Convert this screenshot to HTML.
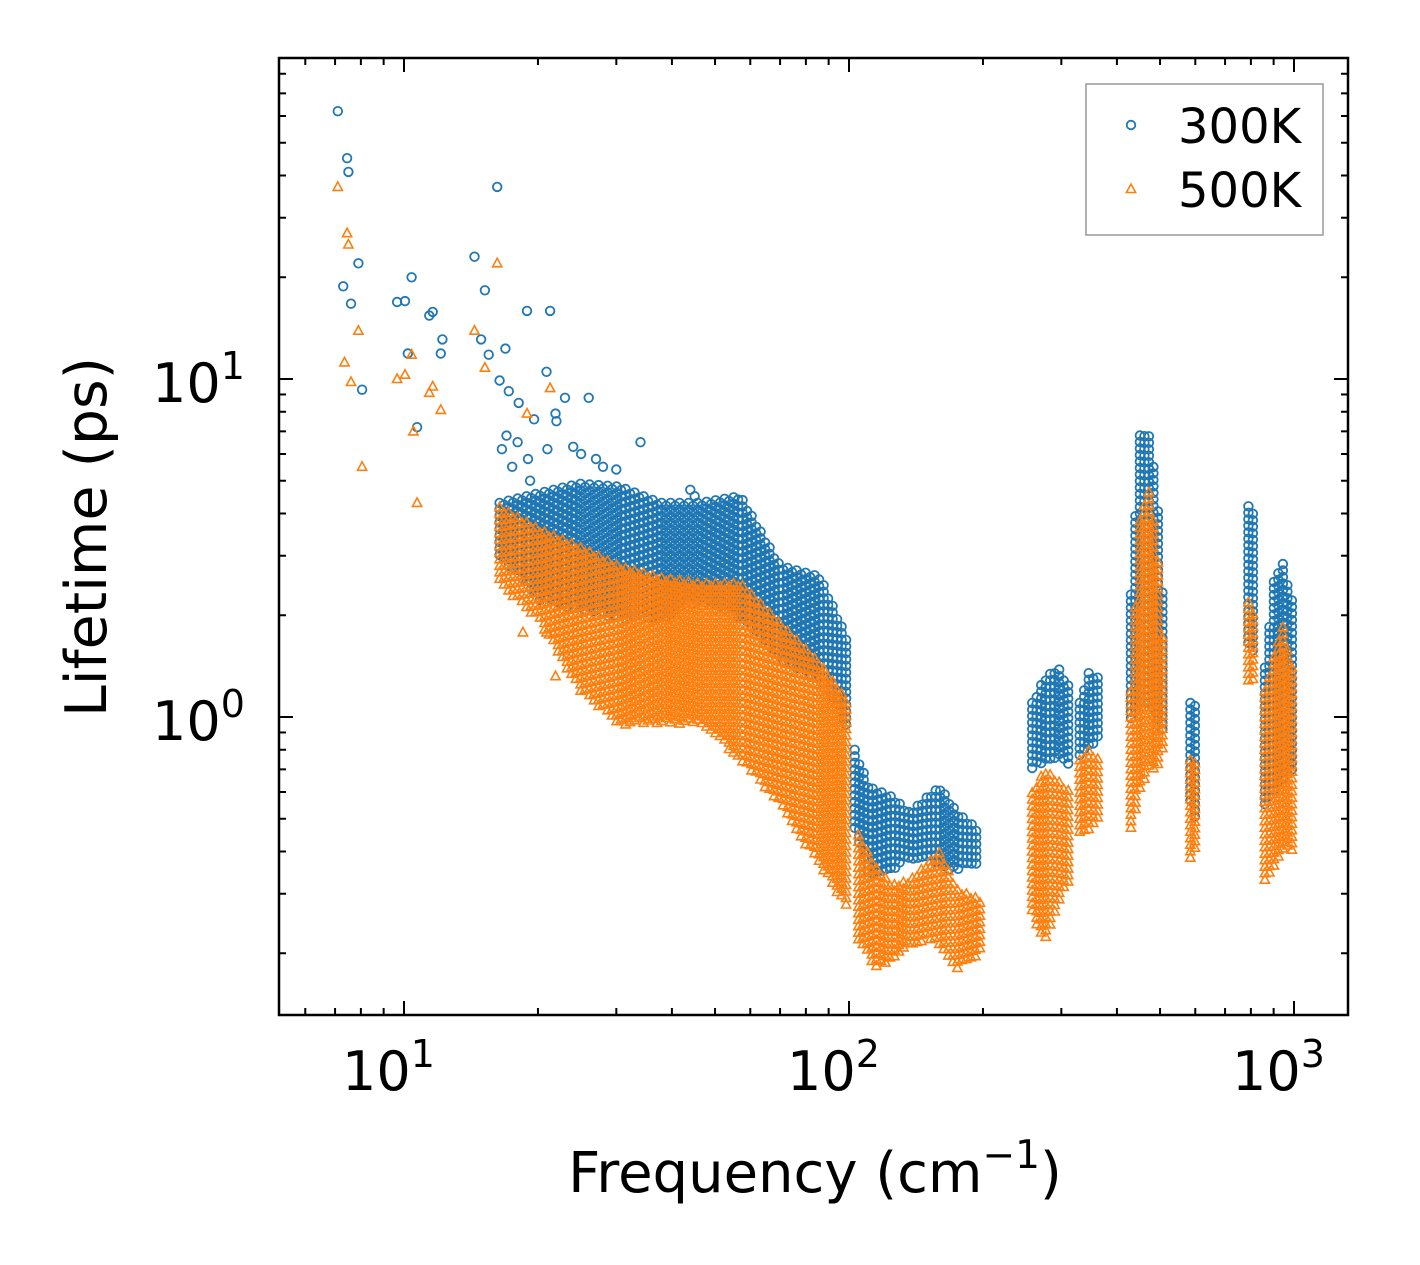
<!DOCTYPE html>
<html><head><meta charset="utf-8">
<style>
html,body{margin:0;padding:0;background:#fff;}
svg{display:block;font-family:"DejaVu Sans","Liberation Sans",sans-serif;}
</style></head>
<body>
<svg id="chart" width="1420" height="1265" viewBox="0 0 1420 1265" xmlns="http://www.w3.org/2000/svg">
<g id="marks"></g>
<g id="axes"></g>
</svg>
<script>
// ---- data (frequency cm^-1, lifetime ps) ----
const blueOutF = [7.1,7.45,7.5,7.3,7.6,7.9,8.05,9.65,10.05,10.4,10.2,10.7,11.4,11.6,12.2,12.1,14.4,15.2,16.2,14.9,15.5,16.9,18.9,21.3,20.9,23.0,26,34,44,45,16.4,17.2,18.1,19.6,21.9,17,18,19,21,22,24,25,27,28,30,16.6,17.5,19.2];
const blueOutL = [62,45,41,18.8,16.7,22,9.3,16.9,17,20,11.9,7.2,15.4,15.8,13.1,11.9,23,18.3,37,13.1,11.8,12.3,15.9,15.9,10.5,8.8,8.8,6.5,4.7,4.5,9.9,9.2,8.5,7.6,7.9,6.8,6.5,5.8,6.2,7.5,6.3,6.0,5.8,5.5,5.4,6.2,5.5,5.0];
const orangeOutF = [7.1,7.45,7.5,7.35,7.6,7.9,8.05,9.65,10.05,10.4,10.5,10.7,11.4,11.6,12.1,14.4,15.2,16.2,18.9,21.3,18.5,20.9,21.9];
const orangeOutL = [37,27,25,11.2,9.8,13.9,5.5,10,10.3,11.8,7,4.3,9.1,9.5,8.1,13.9,10.8,22,7.9,9.4,1.78,1.78,1.32];

const blueSegF  = [[16.4,20.2,24.8,30.6,37.6,46.3,57,70,86,100],[103,111,125,137,150,160,175,197],[258,275,295,315],[330,345,365],[430,450,470,490,510],[585,600],[790,820],[860,900,940,990]];
const blueSegHi = [[4.3,4.6,4.9,4.8,4.3,4.3,4.5,2.8,2.6,1.65],[0.8,0.62,0.58,0.52,0.58,0.62,0.52,0.46],[1.1,1.3,1.4,1.2],[1.1,1.35,1.3],[2.3,6.8,7,5,2],[1.1,1.1],[4.2,4.0],[1.4,2.5,2.9,2.2]];
const blueSegLo = [[3.0,2.2,2.07,1.94,1.94,2.2,1.94,1.47,1.29,0.91],[0.45,0.33,0.35,0.38,0.38,0.36,0.35,0.37],[0.7,0.72,0.75,0.7],[0.75,0.8,0.85],[0.95,1.1,1.1,1.0,0.9],[0.55,0.5],[1.6,1.5],[0.55,0.6,0.65,0.7]];

const orangeSegF  = [[16.4,20.2,24.8,30.6,37.6,46.3,57,70,86,100],[105,115,125,137,150,160,175,197],[258,275,295,315],[330,345,365],[430,450,470,490,510],[585,600],[790,820],[860,900,940,990]];
const orangeSegHi = [[4.2,3.6,3.2,2.8,2.6,2.5,2.5,1.9,1.45,1.1],[0.45,0.36,0.32,0.33,0.37,0.4,0.31,0.29],[0.6,0.7,0.65,0.6],[0.75,0.8,0.75],[1.2,3.8,4.8,3.5,1.5],[0.75,0.75],[2.2,2.0],[1.2,1.5,1.9,1.4]];
const orangeSegLo = [[2.5,1.9,1.2,0.95,0.95,0.95,0.75,0.55,0.36,0.27],[0.22,0.18,0.19,0.21,0.22,0.21,0.18,0.2],[0.26,0.21,0.28,0.33],[0.45,0.45,0.5],[0.45,0.6,0.7,0.7,0.8],[0.38,0.4],[1.25,1.3],[0.33,0.35,0.4,0.4]];

const xTickVals = [10,100,1000];
const xTickExp = ["1","2","3"];
const yTickVals = [1,10];
const yTickExp = ["0","1"];
const legendLabels = ["300K","500K"];

// ---- axes ----
const L=279,R=1348,T=58,B=1015;
const xPerDec=445, yPerDec=338;
function X(f){return 404+(Math.log10(f)-1)*xPerDec;}
function Y(l){return 717-Math.log10(l)*yPerDec;}
const NS="http://www.w3.org/2000/svg";
function mk(tag,attrs,parent){const e=document.createElementNS(NS,tag);for(const k in attrs)e.setAttribute(k,attrs[k]);parent.appendChild(e);return e;}
const marks=document.getElementById('marks'), axes=document.getElementById('axes');
const BLUE="#1f77b4", ORANGE="#ff7f0e";

function circle(x,y,g){
  const c=mk('circle',{cx:x.toFixed(1),cy:y.toFixed(1),r:4.3,fill:'none',stroke:BLUE,'stroke-width':1.8},g);
  
  
}
function tri(x,y,g){
  const p=mk('polygon',{points:`${x.toFixed(1)},${(y-5).toFixed(1)} ${(x-4.6).toFixed(1)},${(y+3.5).toFixed(1)} ${(x+4.6).toFixed(1)},${(y+3.5).toFixed(1)}`,fill:'none',stroke:ORANGE,'stroke-width':1.6},g);
  
  
}
function band(segF,segHi,segLo,draw,g,off){
  for(let s=0;s<segF.length;s++){
    const F=segF[s],H=segHi[s],Lo=segLo[s];
    const x0=X(F[0]),x1=X(F[F.length-1]);
    let row=0;
    for(let x=x0;x<=x1+0.01;x+=4.5){
      let k=0; while(k<F.length-2 && X(F[k+1])<x) k++;
      const xa=X(F[k]), xb=X(F[Math.min(k+1,F.length-1)]);
      const t = xb>xa ? Math.min(1,Math.max(0,(x-xa)/(xb-xa))) : 0;
      const yh=Y(H[k])+(Y(H[Math.min(k+1,F.length-1)])-Y(H[k]))*t;
      const yl=Y(Lo[k])+(Y(Lo[Math.min(k+1,F.length-1)])-Y(Lo[k]))*t;
      const st=((row%2)?3:0)+off;
      for(let y=yh+st;y<=yl;y+=6.5) draw(x,y,g);
      row++;
    }
  }
}
const gB=mk('g',{},marks);  
const gO=mk('g',{},marks);  
band(blueSegF,blueSegHi,blueSegLo,circle,gB,0);
blueOutF.forEach((f,i)=>circle(X(f),Y(blueOutL[i]),gB));
band(orangeSegF,orangeSegHi,orangeSegLo,tri,gO,1);
orangeOutF.forEach((f,i)=>tri(X(f),Y(orangeOutL[i]),gO));

// frame
const fr=mk('rect',{x:L,y:T,width:R-L,height:B-T,fill:'none',stroke:'#000','stroke-width':2.5},axes);
 
// x ticks
for(let d=0;d<=3;d++){
  for(let m=1;m<=9;m++){
    const f=m*Math.pow(10,d); const x=X(f);
    if(x<L+1||x>R-1) continue;
    const len=m===1?14:7;
    mk('line',{x1:x,y1:B,x2:x,y2:B-len,stroke:'#000','stroke-width':2},axes);
    mk('line',{x1:x,y1:T,x2:x,y2:T+len,stroke:'#000','stroke-width':2},axes);
  }
}
xTickVals.forEach((v,i)=>{
  const t=mk('text',{x:X(v)-62,y:1090,'font-size':54,fill:'#000'},axes);
  t.textContent='10';
  const s=mk('tspan',{dy:-23,'font-size':38},t); s.textContent=xTickExp[i];
   
});
// y ticks
for(let d=-1;d<=1;d++){
  for(let m=1;m<=9;m++){
    const l=m*Math.pow(10,d); const y=Y(l);
    if(y<T+1||y>B-1) continue;
    const len=m===1?14:7;
    mk('line',{x1:L,y1:y,x2:L+len,y2:y,stroke:'#000','stroke-width':2},axes);
    mk('line',{x1:R,y1:y,x2:R-len,y2:y,stroke:'#000','stroke-width':2},axes);
  }
}
yTickVals.forEach((v,i)=>{
  const t=mk('text',{x:152,y:Y(v)+23,'font-size':54,fill:'#000'},axes);
  t.textContent='10';
  const s=mk('tspan',{dy:-23,'font-size':38},t); s.textContent=yTickExp[i];
   
});
// titles
const xt=mk('text',{x:815,y:1192,'font-size':56,'text-anchor':'middle',fill:'#000'},axes);
xt.textContent='Frequency (cm';
const sup=mk('tspan',{dy:-24,'font-size':39},xt); sup.textContent='\u22121';
const cl=mk('tspan',{dy:24},xt); cl.textContent=')';
 
const yt=mk('text',{x:0,y:0,'font-size':57,'text-anchor':'middle',fill:'#000',transform:'translate(106,537) rotate(-90)'},axes);
yt.textContent='Lifetime (ps)';
 
// legend
const lg=mk('g',{},axes);  
mk('rect',{x:1086,y:84,width:237,height:151,fill:'#fff',stroke:'#999','stroke-width':1.5},lg);
circle(1131,125,lg);
tri(1131,189,lg);
legendLabels.forEach((s,i)=>{
  const t=mk('text',{x:1178,y:143+i*64,'font-size':48,fill:'#000'},lg);
  t.textContent=s;
   
});
</script>
</body></html>
